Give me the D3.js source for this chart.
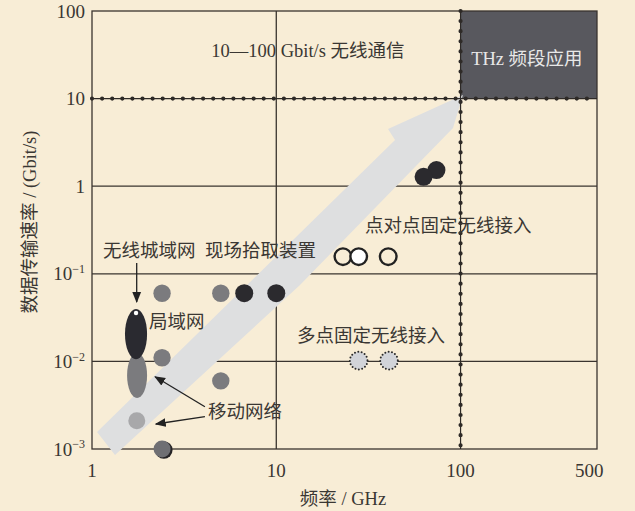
<!DOCTYPE html>
<html>
<head>
<meta charset="utf-8">
<script src="https://cdn.jsdelivr.net/npm/d3@7"></script>
<style>
  html, body { margin: 0; padding: 0; background: #f8edd6; }
  svg { display: block; }
  text { font-family: "Liberation Serif", "Noto Sans CJK SC", serif; }
</style>
</head>
<body>
<svg id="chart" width="635" height="511"></svg>
<script>
// ---- data ----
var xTicks = [1, 10, 100, 500];
var xTickLabels = ["1", "10", "100", "500"];
var yTicks = [100, 10, 1, 0.1, 0.01, 0.001];
var yTickBase = ["100", "10", "1", "10", "10", "10"];
var yTickExp = ["", "", "", "\u22121", "\u22122", "\u22123"];

var gridFreq = [10];
var gridRate = [1, 0.1, 0.01];
var boundFreq = 100;   // dotted vertical
var boundRate = 10;    // dotted horizontal

// [freq GHz, rate Gbit/s]
var grayPts = [[2.4, 0.06], [5, 0.06], [2.4, 0.011], [5, 0.006]];
var blackPts = [[6.7, 0.06], [10, 0.06], [74, 1.53], [63, 1.28]];
var lightPts = [[1.75, 0.0021]];
var shadowPts = [[2.4, 0.001]];
var openPts = [[23, 0.157], [28, 0.157], [40.5, 0.157]];
var openFill = ["none", "#ffffff", "none"];
var dottedPts = [[28, 0.0102], [40.9, 0.0102]];

// ellipses: [fLow, fHigh, rLow, rHigh]
var mobileEllipse = [1.55, 1.99, 0.00382, 0.0125];
var lanEllipse = [1.51, 1.99, 0.0106, 0.0396];

// big trend arrow outline
var trendArrow = [[1.065, 0.00156], [44.1, 3.37], [40.4, 4.5], [103, 11.0],
                  [91, 4.62], [13.45, 0.0745], [1.333, 0.000855]];

// annotation arrows: [from, to]
var noteArrows = [
  [[1.748, 0.133], [1.748, 0.0477]],
  [[4.10, 0.00304], [2.20, 0.00669]],
  [[4.10, 0.00234], [2.22, 0.00193]]
];

// labels: [text, freq, rate, anchor]
var labels = [
  ["10\u2014100  Gbit/s 无线通信", 14.86, 35.9, "middle"],
  ["无线城域网", 1.147, 0.187, "start"],
  ["现场拾取装置", 4.10, 0.187, "start"],
  ["点对点固定无线接入", 30.3, 0.36, "start"],
  ["局域网", 2.04, 0.0284, "start"],
  ["多点固定无线接入", 12.95, 0.02, "start"],
  ["移动网络", 4.26, 0.00267, "start"]
];
var thzLabel = ["THz 频段应用", 229, 29.1];

// ---- chart ----
var svg = d3.select("#chart");
var ink = "#3a342f";

var x = d3.scaleLog().domain([1, 550]).range([92, 597]);
var y = d3.scaleLog().domain([0.001, 100]).range([449, 11]);

svg.append("defs").append("marker")
  .attr("id", "head")
  .attr("viewBox", "0 0 10 10")
  .attr("refX", 9).attr("refY", 5)
  .attr("markerWidth", 11).attr("markerHeight", 11)
  .attr("markerUnits", "userSpaceOnUse")
  .attr("orient", "auto")
  .append("path")
  .attr("d", "M0,1 L10,5 L0,9 Z")
  .attr("fill", "#222");

// THz region
svg.append("rect")
  .attr("x", x(boundFreq)).attr("y", y(100))
  .attr("width", x(550) - x(boundFreq))
  .attr("height", y(boundRate) - y(100))
  .attr("fill", "#58585e");

// solid grid
svg.selectAll("line.gy").data(gridRate).enter().append("line")
  .attr("class", "gy")
  .attr("x1", x(1)).attr("x2", x(550))
  .attr("y1", function(d) { return y(d); })
  .attr("y2", function(d) { return y(d); })
  .attr("stroke", ink).attr("stroke-width", 1.3);

svg.selectAll("line.gx").data(gridFreq).enter().append("line")
  .attr("class", "gx")
  .attr("x1", function(d) { return x(d); })
  .attr("x2", function(d) { return x(d); })
  .attr("y1", y(100)).attr("y2", y(0.001))
  .attr("stroke", ink).attr("stroke-width", 1.3);

svg.append("rect")
  .attr("x", x(1)).attr("y", y(100))
  .attr("width", x(550) - x(1)).attr("height", y(0.001) - y(100))
  .attr("fill", "none").attr("stroke", ink).attr("stroke-width", 1.3);

// trend arrow
var line = d3.line()
  .x(function(d) { return x(d[0]); })
  .y(function(d) { return y(d[1]); });

svg.append("path")
  .attr("d", line(trendArrow) + "Z")
  .attr("fill", "#dedfe0");

// dotted boundaries
function dotted(x1, y1, x2, y2) {
  svg.append("line")
    .attr("x1", x1).attr("y1", y1).attr("x2", x2).attr("y2", y2)
    .attr("stroke", "#2e2a27").attr("stroke-width", 1.2);
  svg.append("line")
    .attr("x1", x1).attr("y1", y1).attr("x2", x2).attr("y2", y2)
    .attr("stroke", "#2e2a27").attr("stroke-width", 4.2)
    .attr("stroke-linecap", "round")
    .attr("stroke-dasharray", "0 10.1");
}
dotted(x(1), y(boundRate), x(550), y(boundRate));
dotted(x(boundFreq), y(100), x(boundFreq), y(0.001));

// ellipses
function ellipse(e, fill) {
  return svg.append("ellipse")
    .attr("cx", (x(e[0]) + x(e[1])) / 2)
    .attr("cy", (y(e[2]) + y(e[3])) / 2)
    .attr("rx", (x(e[1]) - x(e[0])) / 2)
    .attr("ry", (y(e[2]) - y(e[3])) / 2)
    .attr("fill", fill);
}
ellipse(mobileEllipse, "#7b7b7e");
ellipse(lanEllipse, "#2a2a30");
svg.append("circle")
  .attr("cx", (x(lanEllipse[0]) + x(lanEllipse[1])) / 2)
  .attr("cy", y(lanEllipse[3]) + 4)
  .attr("r", 2.2).attr("fill", "#fff");

// circle markers
function dots(pts, fill, r) {
  return svg.append("g").selectAll("circle").data(pts).enter().append("circle")
    .attr("cx", function(d) { return x(d[0]); })
    .attr("cy", function(d) { return y(d[1]); })
    .attr("r", r).attr("fill", fill);
}
dots(grayPts, "#7b7b7e", 8.7);
dots(lightPts, "#a8a8aa", 8.5);
dots(shadowPts, "#252325", 8.7).attr("transform", "translate(1.8,1)");
dots(shadowPts, "#6f6f73", 8.5);
dots(blackPts, "#2b2a2e", 9);

svg.append("g").selectAll("circle").data(openPts).enter().append("circle")
  .attr("cx", function(d) { return x(d[0]); })
  .attr("cy", function(d) { return y(d[1]); })
  .attr("r", 8.3)
  .attr("fill", function(d, i) { return openFill[i]; })
  .attr("stroke", "#222").attr("stroke-width", 2.4);

svg.append("g").selectAll("circle").data(dottedPts).enter().append("circle")
  .attr("cx", function(d) { return x(d[0]); })
  .attr("cy", function(d) { return y(d[1]); })
  .attr("r", 8.8)
  .attr("fill", "#d2d4d9")
  .attr("stroke", "#2a2a2a").attr("stroke-width", 2)
  .attr("stroke-linecap", "round")
  .attr("stroke-dasharray", "0 3.4");

// annotation arrows
svg.append("g").selectAll("line").data(noteArrows).enter().append("line")
  .attr("x1", function(d) { return x(d[0][0]); })
  .attr("y1", function(d) { return y(d[0][1]); })
  .attr("x2", function(d) { return x(d[1][0]); })
  .attr("y2", function(d) { return y(d[1][1]); })
  .attr("stroke", "#222").attr("stroke-width", 1.3)
  .attr("marker-end", "url(#head)");

// labels
svg.append("g").selectAll("text").data(labels).enter().append("text")
  .attr("x", function(d) { return x(d[1]); })
  .attr("y", function(d) { return y(d[2]); })
  .attr("dy", "0.36em")
  .attr("text-anchor", function(d) { return d[3]; })
  .attr("font-size", 18.5)
  .attr("fill", "#3a3733")
  .text(function(d) { return d[0]; });

svg.append("text")
  .attr("x", x(thzLabel[1])).attr("y", y(thzLabel[2]))
  .attr("dy", "0.36em").attr("text-anchor", "middle")
  .attr("font-size", 18.5).attr("fill", "#e8e8e8")
  .text(thzLabel[0]);

// ticks
svg.append("g").selectAll("text").data(xTicks).enter().append("text")
  .attr("x", function(d) { return x(d); })
  .attr("y", y(0.001) + 21)
  .attr("dy", "0.35em")
  .attr("text-anchor", "middle")
  .attr("font-size", 19)
  .attr("fill", "#3a3733")
  .text(function(d, i) { return xTickLabels[i]; });

var yt = svg.append("g").selectAll("text").data(yTicks).enter().append("text")
  .attr("x", 85)
  .attr("y", function(d) { return y(d); })
  .attr("dy", "0.35em")
  .attr("text-anchor", "end")
  .attr("font-size", 19)
  .attr("fill", "#3a3733");
yt.append("tspan").text(function(d, i) { return yTickBase[i]; });
yt.append("tspan")
  .attr("font-size", 12)
  .attr("dy", "-0.6em")
  .text(function(d, i) { return yTickExp[i]; });

// axis titles
svg.append("text")
  .attr("transform", "translate(36,222) rotate(-90)")
  .attr("text-anchor", "middle")
  .attr("font-size", 18.5)
  .attr("fill", "#3a3733")
  .text("数据传输速率 / (Gbit/s)");

svg.append("text")
  .attr("x", 343).attr("y", 498)
  .attr("dy", "0.36em")
  .attr("text-anchor", "middle")
  .attr("font-size", 18.5)
  .attr("fill", "#3a3733")
  .text("频率 / GHz");
</script>
</body>
</html>
